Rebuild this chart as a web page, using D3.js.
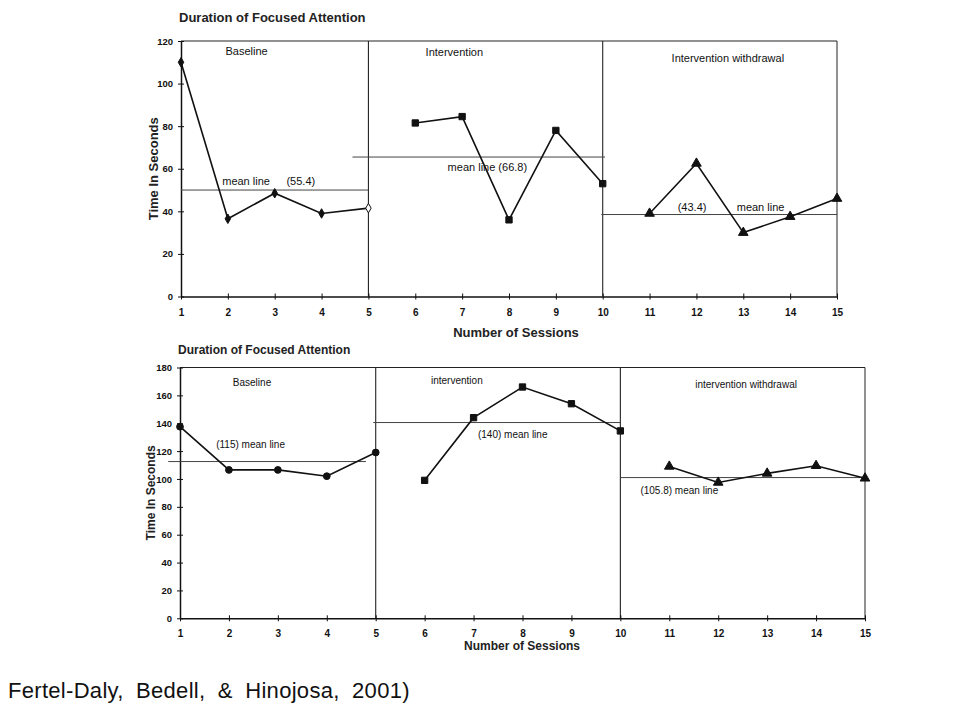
<!DOCTYPE html>
<html>
<head>
  <title>Duration of Focused Attention</title>
  <style>
    body { margin: 0; background: #fff; }
    svg { font-family: "Liberation Sans", Arial, sans-serif; }
    .tick text { font-size: 10px; fill: #111; font-weight: bold; }
    .y-axis .tick text { font-size: 9.5px; }
    .domain { stroke: #111; stroke-width: 1.5; }
    .tick line { stroke: #111; }
    .frame { fill: none; stroke: #222; stroke-width: 1; }
    .divider { stroke: #222; stroke-width: 1.1; }
    .mean { stroke: #444; stroke-width: 1; }
    .data-line { fill: none; stroke: #111; stroke-width: 1.6; }
  </style>
</head>
<body>
  <svg id="chart" width="960" height="720"></svg>

  <script src="https://d3js.org/d3.v7.min.js"></script>
  <script>
    // data
    const sessions = [1, 2, 3, 4, 5, 6, 7, 8, 9, 10, 11, 12, 13, 14, 15];
    const phases = ["Baseline", "Intervention", "Intervention withdrawal"];

    // top chart (0-120 s)
    const topYTicks = [0, 20, 40, 60, 80, 100, 120];
    const topBaseline = [110, 36.5, 48.5, 39, 41.5];
    const topIntervention = [81.5, 84.5, 36, 78, 53];
    const topWithdrawal = [39, 62.5, 30, 37.5, 46];
    const topMeans = [50, 65.5, 38.5];

    // bottom chart (0-180 s)
    const botYTicks = [0, 20, 40, 60, 80, 100, 120, 140, 160, 180];
    const botBaseline = [137.5, 106.5, 106.5, 102, 119];
    const botIntervention = [99, 144, 166, 154, 134.5];
    const botWithdrawal = [109, 97.5, 104, 109.5, 100.5];
    const botMeans = [112.5, 140.5, 101];

    const svg = d3.select("#chart");

    const panels = [
      {
        x0: 181, x1: 837, yTop: 41, yBot: 296.5, yMax: 120, ticks: topYTicks,
        title: "Duration of Focused Attention", titleSize: 13, titleY: 22,
        labelSize: 13, yLabelX: 158, xLabelX: 516, xLabelY: 337,
        textSize: 11, phaseNames: phases,
        phaseLabel: [[1.95, 55], [6.22, 56], [11.47, 62]],
        series: [topBaseline, topIntervention, topWithdrawal],
        shapes: ["diamond", "square", "triangle"],
        means: topMeans,
        meanSpan: [[1, 5], [4.66, 10.05], [9.97, 15]],
        meanText: [
          [["mean line", 1.88, -5], ["(55.4)", 3.25, -5]],
          [["mean line (66.8)", 6.69, 14]],
          [["(43.4)", 11.6, -4], ["mean line", 12.86, -4]]
        ],
        thickDivider: true
      },
      {
        x0: 180, x1: 865, yTop: 367.5, yBot: 618.3, yMax: 180, ticks: botYTicks,
        title: "Duration of Focused Attention", titleSize: 12, titleY: 354,
        labelSize: 12, yLabelX: 155, xLabelX: 522, xLabelY: 650,
        textSize: 10,
        phaseNames: ["Baseline", "intervention", "intervention withdrawal"],
        phaseLabel: [[2.08, 386], [6.13, 384], [11.53, 388]],
        series: [botBaseline, botIntervention, botWithdrawal],
        shapes: ["circle", "square", "triangle"],
        means: botMeans,
        meanSpan: [[0.76, 4.8], [4.95, 10], [10, 15]],
        meanText: [
          [["(115) mean line", 1.74, -14]],
          [["(140) mean line", 7.09, 15]],
          [["(105.8) mean line", 10.41, 16]]
        ],
        thickDivider: false
      }
    ];

    const symbolFor = {
      diamond: d3.symbol().type(d3.symbolDiamond).size(26),
      circle: d3.symbol().type(d3.symbolCircle).size(36),
      square: d3.symbol().type(d3.symbolSquare).size(40),
      triangle: d3.symbol().type(d3.symbolTriangle).size(40)
    };

    panels.forEach(p => {
      const x = d3.scaleLinear().domain([1, 15]).range([p.x0, p.x1]);
      const y = d3.scaleLinear().domain([0, p.yMax]).range([p.yBot, p.yTop]);
      const g = svg.append("g");

      // frame (top + right)
      g.append("path").attr("class", "frame")
        .attr("d", `M${x(1)},${y(p.yMax)}H${x(15)}V${y(0)}`);

      // phase dividers
      [5, 10].forEach(s => {
        g.append("line").attr("class", "divider")
          .attr("x1", x(s)).attr("x2", x(s))
          .attr("y1", y(p.yMax)).attr("y2", y(0))
          .attr("stroke-width", s === 10 && p.thickDivider ? 2 : 1.1);
      });

      // axes
      const yAxis = g.append("g")
        .attr("class", "y-axis")
        .attr("transform", `translate(${x(1)},0)`)
        .call(d3.axisLeft(y).tickValues(p.ticks).tickSize(3).tickSizeOuter(0).tickPadding(5));
      yAxis.selectAll(".tick line").attr("x1", 3);

      const xAxis = g.append("g")
        .attr("transform", `translate(0,${y(0)})`)
        .call(d3.axisBottom(x).tickValues(sessions).tickSize(3).tickSizeOuter(0).tickPadding(9));
      xAxis.selectAll(".tick line").attr("y1", -3);

      // mean lines and their labels
      p.means.forEach((m, i) => {
        g.append("line").attr("class", "mean")
          .attr("x1", x(p.meanSpan[i][0])).attr("x2", x(p.meanSpan[i][1]))
          .attr("y1", y(m)).attr("y2", y(m));
        p.meanText[i].forEach(t => {
          g.append("text")
            .attr("x", x(t[1])).attr("y", y(m) + t[2])
            .attr("font-size", p.textSize).attr("fill", "#111")
            .text(t[0]);
        });
      });

      // phase labels
      p.phaseNames.forEach((name, i) => {
        g.append("text")
          .attr("x", x(p.phaseLabel[i][0])).attr("y", p.phaseLabel[i][1])
          .attr("font-size", p.textSize).attr("fill", "#111")
          .text(name);
      });

      // data series
      p.series.forEach((vals, i) => {
        const pts = vals.map((v, j) => [sessions[i * 5 + j], v]);
        g.append("path").attr("class", "data-line")
          .attr("d", d3.line().x(d => x(d[0])).y(d => y(d[1]))(pts));
        g.selectAll(null).data(pts).enter().append("path")
          .attr("transform", d => `translate(${x(d[0])},${y(d[1])})`)
          .attr("d", symbolFor[p.shapes[i]])
          .attr("fill", (d, j) => (p.shapes[i] === "diamond" && j === 4) ? "#fff" : "#111")
          .attr("stroke", "#111").attr("stroke-width", 1);
      });

      // titles
      g.append("text")
        .attr("x", x(1) - 2).attr("y", p.titleY)
        .attr("font-size", p.titleSize).attr("font-weight", "bold").attr("fill", "#222")
        .text(p.title);

      g.append("text")
        .attr("transform", `translate(${p.yLabelX},${(y(0) + y(p.yMax)) / 2}) rotate(-90)`)
        .attr("text-anchor", "middle")
        .attr("font-size", p.labelSize).attr("font-weight", "bold").attr("fill", "#222")
        .text("Time In Seconds");

      g.append("text")
        .attr("x", p.xLabelX).attr("y", p.xLabelY)
        .attr("text-anchor", "middle")
        .attr("font-size", p.labelSize).attr("font-weight", "bold").attr("fill", "#222")
        .text("Number of Sessions");
    });

    // source caption
    svg.append("text")
      .attr("x", 8).attr("y", 698)
      .attr("font-size", 22).attr("fill", "#111")
      .style("word-spacing", "6px")
      .style("letter-spacing", "0.3px")
      .text("Fertel-Daly, Bedell, & Hinojosa, 2001)");
  </script>
</body>
</html>
